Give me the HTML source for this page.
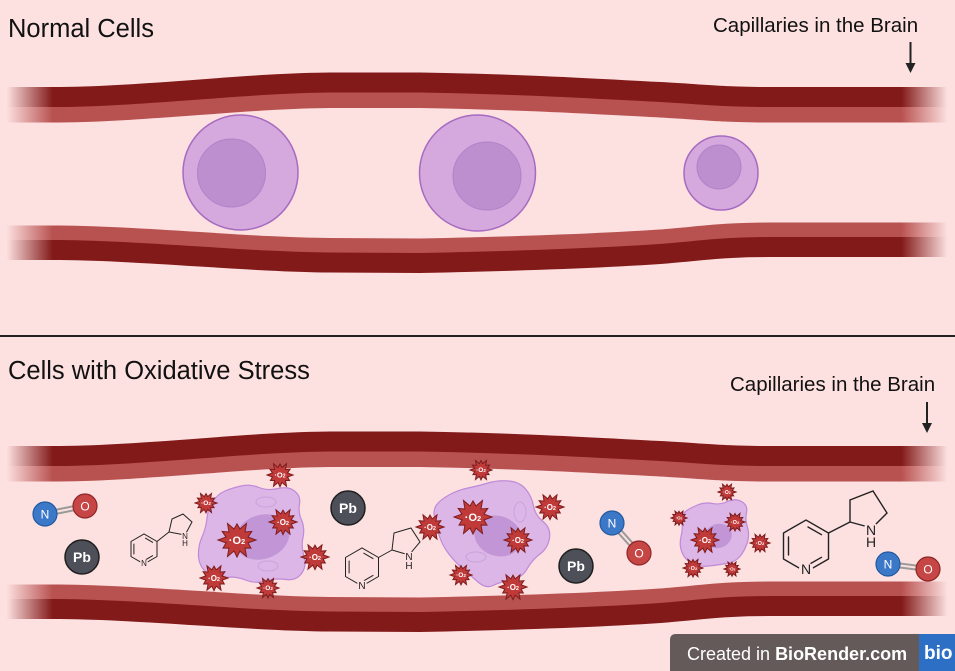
<!DOCTYPE html>
<html>
<head>
<meta charset="utf-8">
<style>
html,body{margin:0;padding:0;background:#fde0e0;}
body{width:955px;height:671px;overflow:hidden;}
svg{display:block;font-family:"Liberation Sans",sans-serif;}
</style>
</head>
<body>
<svg width="955" height="671" viewBox="0 0 955 671" xmlns="http://www.w3.org/2000/svg">
<defs>
  <linearGradient id="fadeG" gradientUnits="userSpaceOnUse" x1="0" y1="0" x2="955" y2="0">
    <stop offset="0.007" stop-color="#fff" stop-opacity="0"/>
    <stop offset="0.055" stop-color="#fff" stop-opacity="1"/>
    <stop offset="0.944" stop-color="#fff" stop-opacity="1"/>
    <stop offset="0.992" stop-color="#fff" stop-opacity="0"/>
  </linearGradient>
  <mask id="fade" maskUnits="userSpaceOnUse" x="0" y="0" width="955" height="671">
    <rect x="0" y="0" width="955" height="671" fill="url(#fadeG)"/>
  </mask>
  <path id="topB" d="M0 107 L60 107 C150 106 250 93 330 92.5 L420 92.5 C520 94 600 99 660 102 C700 104 720 107 770 107 L955 107"/>
  <path id="botB" d="M0 240 L60 240 C150 241 250 252 330 252.5 L420 253 C520 251 600 248 660 244 C700 241 720 237 770 237 L955 237"/>
  <g id="vessel">
    <use href="#topB" transform="translate(0,7.5)" fill="none" stroke="#b85251" stroke-width="16"/>
    <use href="#topB" transform="translate(0,-10)" fill="none" stroke="#831a1a" stroke-width="20"/>
    <use href="#botB" transform="translate(0,-7)" fill="none" stroke="#b85251" stroke-width="15"/>
    <use href="#botB" transform="translate(0,10)" fill="none" stroke="#831a1a" stroke-width="20"/>
  </g>
  <path id="st" d="M1,0 L.58,.155 L.736,.425 L.424,.424 L.5,.866 L.155,.58 L0,.9 L-.155,.58 L-.5,.866 L-.424,.424 L-.736,.425 L-.58,.155 L-1,0 L-.58,-.155 L-.779,-.45 L-.424,-.424 L-.5,-.866 L-.155,-.58 L0,-.85 L.155,-.58 L.5,-.866 L.424,-.424 L.779,-.45 L.58,-.155 Z" fill="#c13a3a" stroke="#7d1c1c" stroke-width="1" vector-effect="non-scaling-stroke"/>
</defs>

<rect x="0" y="0" width="955" height="671" fill="#fde0e0"/>

<!-- ===== TOP PANEL ===== -->
<text x="8" y="37" font-size="25.5" fill="#111">Normal Cells</text>
<text x="713" y="32" font-size="20.5" fill="#111">Capillaries in the Brain</text>
<line x1="910.5" y1="42" x2="910.5" y2="64" stroke="#222" stroke-width="2"/>
<polygon points="905.5,63 915.5,63 910.5,73" fill="#222"/>

<g mask="url(#fade)">
  <use href="#vessel"/>
</g>

<circle cx="240.5" cy="172.5" r="57.5" fill="#d5a8de" stroke="#a66bc0" stroke-width="1.5"/>
<circle cx="231.5" cy="173" r="34" fill="#bd8fcf" stroke="#b083c8" stroke-width="1"/>
<circle cx="477.5" cy="173" r="58" fill="#d5a8de" stroke="#a66bc0" stroke-width="1.5"/>
<circle cx="487" cy="176" r="34" fill="#bd8fcf" stroke="#b083c8" stroke-width="1"/>
<circle cx="721" cy="173" r="37" fill="#d5a8de" stroke="#a66bc0" stroke-width="1.5"/>
<circle cx="719" cy="167" r="22" fill="#bd8fcf" stroke="#b083c8" stroke-width="1"/>

<line x1="0" y1="336" x2="955" y2="336" stroke="#222" stroke-width="2"/>

<!-- ===== BOTTOM PANEL ===== -->
<text x="8" y="379" font-size="25.5" fill="#111">Cells with Oxidative Stress</text>
<text x="730" y="391" font-size="20.5" fill="#111">Capillaries in the Brain</text>
<line x1="927" y1="402" x2="927" y2="424" stroke="#222" stroke-width="2"/>
<polygon points="922,423 932,423 927,433" fill="#222"/>

<g mask="url(#fade)">
  <use href="#vessel" transform="translate(0,359)"/>
</g>

<!-- oxidized cells -->
<path d="M225,491 Q232,488 241,486 Q250,484 259,487.5 Q268,491 278,488.5 Q288,486 294.5,491 Q301,496 299.5,504 Q298,512 301.5,520 Q305,528 303,537.5 Q301,547 304,556.5 Q307,566 301.5,573.5 Q296,581 286,579.5 Q276,578 265.5,581 Q255,584 245.5,580 Q236,576 225,577.5 Q214,579 206.5,572.5 Q199,566 198.5,556 Q198,546 202,537 Q206,528 207,518 Q208,508 213,501 Q218,494 225,491 Z" fill="#dbb6e6" stroke="#c08ad8" stroke-width="1.2"/>
<ellipse cx="262" cy="537" rx="28" ry="22" fill="#c296d6" transform="rotate(-20 262 537)"/>
<ellipse cx="266" cy="502" rx="10" ry="5" fill="none" stroke="#c9a3dc" stroke-width="1"/>
<ellipse cx="268" cy="566" rx="10" ry="5" fill="none" stroke="#c9a3dc" stroke-width="1"/>

<path d="M449,495 Q458,490 468,488 Q478,486 488,483 Q498,480 509,481 Q520,482 526,489.5 Q532,497 533.5,506 Q535,515 543,521.5 Q551,528 549.5,538 Q548,548 540,554 Q532,560 527,569 Q522,578 511,580 Q500,582 493,585.5 Q486,589 478,582 Q470,575 462.5,568.5 Q455,562 448.5,553.5 Q442,545 439,535 Q436,525 434.5,517.5 Q433,510 436.5,505 Q440,500 449,495 Z" fill="#dbb6e6" stroke="#c08ad8" stroke-width="1.2"/>
<ellipse cx="498" cy="536" rx="24" ry="20" fill="#c296d6" transform="rotate(20 498 536)"/>
<ellipse cx="520" cy="512" rx="6" ry="10" fill="none" stroke="#c9a3dc" stroke-width="1"/>
<ellipse cx="476" cy="557" rx="10" ry="5" fill="none" stroke="#c9a3dc" stroke-width="1"/>

<path d="M697.5,505 Q705,502 712.5,503.5 Q720,505 727.5,501.5 Q735,498 741.5,501.5 Q748,505 746.5,512.5 Q745,520 747.5,527.5 Q750,535 747,543.5 Q744,552 739.5,557 Q735,562 726.5,563.5 Q718,565 709,566 Q700,567 692.5,563.5 Q685,560 682,552.5 Q679,545 681,536.5 Q683,528 682,521.5 Q681,515 685.5,511.5 Q690,508 697.5,505 Z" fill="#dbb6e6" stroke="#c08ad8" stroke-width="1.2"/>
<ellipse cx="718" cy="536" rx="14" ry="12" fill="#c296d6" transform="rotate(-20 718 536)"/>

<!-- nicotine 1 -->
<g fill="none" stroke="#222" stroke-width="1" stroke-linecap="round">
  <polyline points="157,556.5 157,541.5 144,534 131,541.5 131,556.5 144,564 157,556.5"/>
  <line x1="133.9" y1="544" x2="133.9" y2="554"/>
  <line x1="145.5" y1="538.2" x2="152.6" y2="542.3"/>
  <line x1="152.6" y1="555.7" x2="145.5" y2="559.8"/>
  <line x1="157" y1="541.5" x2="169" y2="532"/>
  <polyline points="185,535 192,522 183,514 172,519 169,532 185,535"/>
</g>
<circle cx="144" cy="563" r="4" fill="#fde0e0"/>
<text x="144" y="566" font-size="8" text-anchor="middle" fill="#222">N</text>
<circle cx="185" cy="536" r="4" fill="#fde0e0"/>
<text x="185" y="539" font-size="8" text-anchor="middle" fill="#222">N</text>
<text x="185" y="546" font-size="8" text-anchor="middle" fill="#222">H</text>

<!-- nicotine 2 -->
<g fill="none" stroke="#222" stroke-width="1" stroke-linecap="round">
  <polyline points="378.5,576.5 378.5,557.5 362,548 345.5,557.5 345.5,576.5 362,586 378.5,576.5"/>
  <line x1="349.1" y1="561" x2="349.1" y2="573"/>
  <line x1="363.8" y1="553.2" x2="373" y2="558.6"/>
  <line x1="373" y1="575.4" x2="363.8" y2="580.8"/>
  <line x1="378.5" y1="557.5" x2="392" y2="550"/>
  <polyline points="409,555 420,542 411,528 394,533 392,550 409,555"/>
</g>
<circle cx="362" cy="585" r="5" fill="#fde0e0"/>
<text x="362" y="589" font-size="10" text-anchor="middle" fill="#222">N</text>
<circle cx="409" cy="556" r="5" fill="#fde0e0"/>
<text x="409" y="560" font-size="10" text-anchor="middle" fill="#222">N</text>
<text x="409" y="569" font-size="10" text-anchor="middle" fill="#222">H</text>

<!-- nicotine 3 -->
<g fill="none" stroke="#222" stroke-width="1.4" stroke-linecap="round">
  <polyline points="828.5,559 828.5,533 806,520 783.5,533 783.5,559 806,572 828.5,559"/>
  <line x1="788.5" y1="537" x2="788.5" y2="555"/>
  <line x1="808" y1="527" x2="821.5" y2="534.7"/>
  <line x1="821.5" y1="557.3" x2="808" y2="565"/>
  <line x1="828.5" y1="533" x2="850" y2="522"/>
  <polyline points="872,528 887,513 873,491 850,500 850,522 872,528"/>
</g>
<circle cx="806" cy="569" r="7" fill="#fde0e0"/>
<text x="806" y="574" font-size="14" text-anchor="middle" fill="#222">N</text>
<circle cx="871" cy="529" r="7" fill="#fde0e0"/>
<text x="871" y="535" font-size="14" text-anchor="middle" fill="#222">N</text>
<text x="871" y="547" font-size="14" text-anchor="middle" fill="#222">H</text>

<!-- Pb -->
<g font-weight="bold" font-size="14" text-anchor="middle" fill="#fff">
  <circle cx="82" cy="557" r="17" fill="#4d5058" stroke="#1e1e1e" stroke-width="1.5"/>
  <text x="82" y="562">Pb</text>
  <circle cx="348" cy="508" r="17" fill="#4d5058" stroke="#1e1e1e" stroke-width="1.5"/>
  <text x="348" y="513">Pb</text>
  <circle cx="576" cy="566" r="17" fill="#4d5058" stroke="#1e1e1e" stroke-width="1.5"/>
  <text x="576" y="571">Pb</text>
</g>

<!-- NO molecules -->
<g stroke="#9a9a9a" stroke-width="2">
  <line x1="45.4" y1="516" x2="85.4" y2="508"/>
  <line x1="44.6" y1="512" x2="84.6" y2="504"/>
  <line x1="613.5" y1="521.7" x2="640.5" y2="551.7"/>
  <line x1="610.5" y1="524.3" x2="637.5" y2="554.3"/>
  <line x1="887.75" y1="566" x2="927.75" y2="571"/>
  <line x1="888.25" y1="562" x2="928.25" y2="567"/>
</g>
<g font-size="12" text-anchor="middle" fill="#fff">
  <circle cx="45" cy="514" r="12" fill="#3c78c8" stroke="#235a9e" stroke-width="1.2"/>
  <text x="45" y="518.5">N</text>
  <circle cx="85" cy="506" r="12" fill="#c64545" stroke="#8e2727" stroke-width="1.2"/>
  <text x="85" y="510.5">O</text>
  <circle cx="612" cy="523" r="12" fill="#3c78c8" stroke="#235a9e" stroke-width="1.2"/>
  <text x="612" y="527.5">N</text>
  <circle cx="639" cy="553" r="12" fill="#c64545" stroke="#8e2727" stroke-width="1.2"/>
  <text x="639" y="557.5">O</text>
  <circle cx="888" cy="564" r="12" fill="#3c78c8" stroke="#235a9e" stroke-width="1.2"/>
  <text x="888" y="568.5">N</text>
  <circle cx="928" cy="569" r="12" fill="#c64545" stroke="#8e2727" stroke-width="1.2"/>
  <text x="928" y="573.5">O</text>
</g>

<!-- superoxide stars -->
<g fill="#fff" font-weight="bold" text-anchor="middle">
  <g transform="translate(280,475)"><use href="#st" transform="scale(13)"/><text y="2.6" font-size="7.5">·O<tspan font-size="5">2</tspan></text></g>
  <g transform="translate(206,503)"><use href="#st" transform="scale(11)"/><text y="2.2" font-size="6.5">·O<tspan font-size="4.5">2</tspan></text></g>
  <g transform="translate(237,540)"><use href="#st" transform="scale(19)"/><text y="3.8" font-size="11">·O<tspan font-size="7.5">2</tspan></text></g>
  <g transform="translate(283,522)"><use href="#st" transform="scale(14)"/><text y="2.8" font-size="8">·O<tspan font-size="5.5">2</tspan></text></g>
  <g transform="translate(315,557)"><use href="#st" transform="scale(14)"/><text y="2.8" font-size="8">·O<tspan font-size="5.5">2</tspan></text></g>
  <g transform="translate(214,578)"><use href="#st" transform="scale(14)"/><text y="2.8" font-size="8">·O<tspan font-size="5.5">2</tspan></text></g>
  <g transform="translate(268,588)"><use href="#st" transform="scale(11)"/><text y="2.2" font-size="6.5">·O<tspan font-size="4.5">2</tspan></text></g>

  <g transform="translate(481,470)"><use href="#st" transform="scale(11)"/><text y="2.2" font-size="6.5">·O<tspan font-size="4.5">2</tspan></text></g>
  <g transform="translate(473,517)"><use href="#st" transform="scale(19)"/><text y="3.8" font-size="11">·O<tspan font-size="7.5">2</tspan></text></g>
  <g transform="translate(430,527)"><use href="#st" transform="scale(14)"/><text y="2.8" font-size="8">·O<tspan font-size="5.5">2</tspan></text></g>
  <g transform="translate(550,507)"><use href="#st" transform="scale(14)"/><text y="2.8" font-size="8">·O<tspan font-size="5.5">2</tspan></text></g>
  <g transform="translate(518,540)"><use href="#st" transform="scale(14)"/><text y="2.8" font-size="8">·O<tspan font-size="5.5">2</tspan></text></g>
  <g transform="translate(461,575)"><use href="#st" transform="scale(11)"/><text y="2.2" font-size="6.5">·O<tspan font-size="4.5">2</tspan></text></g>
  <g transform="translate(513,587)"><use href="#st" transform="scale(14)"/><text y="2.8" font-size="8">·O<tspan font-size="5.5">2</tspan></text></g>

  <g transform="translate(727,492)"><use href="#st" transform="scale(9)"/><text y="1.8" font-size="5">·O<tspan font-size="3.5">2</tspan></text></g>
  <g transform="translate(679,518)"><use href="#st" transform="scale(8)"/><text y="1.6" font-size="4.5">·O<tspan font-size="3">2</tspan></text></g>
  <g transform="translate(735,522)"><use href="#st" transform="scale(10)"/><text y="2" font-size="5.5">·O<tspan font-size="4">2</tspan></text></g>
  <g transform="translate(705,540)"><use href="#st" transform="scale(14)"/><text y="2.8" font-size="8">·O<tspan font-size="5.5">2</tspan></text></g>
  <g transform="translate(760,543)"><use href="#st" transform="scale(10)"/><text y="2" font-size="5.5">·O<tspan font-size="4">2</tspan></text></g>
  <g transform="translate(693,568)"><use href="#st" transform="scale(10)"/><text y="2" font-size="5.5">·O<tspan font-size="4">2</tspan></text></g>
  <g transform="translate(732,569)"><use href="#st" transform="scale(8)"/><text y="1.6" font-size="4.5">·O<tspan font-size="3">2</tspan></text></g>
</g>

<!-- BioRender badge -->
<path d="M670,671 L670,640 Q670,634 676,634 L955,634 L955,671 Z" fill="#655a5a"/>
<rect x="919" y="634" width="36" height="37" fill="#2d6fc5"/>
<text x="687" y="660" font-size="18" fill="#fff">Created in <tspan font-weight="bold">BioRender.com</tspan></text>
<text x="924" y="659" font-size="19" font-weight="bold" fill="#fff">bio</text>
</svg>
</body>
</html>
